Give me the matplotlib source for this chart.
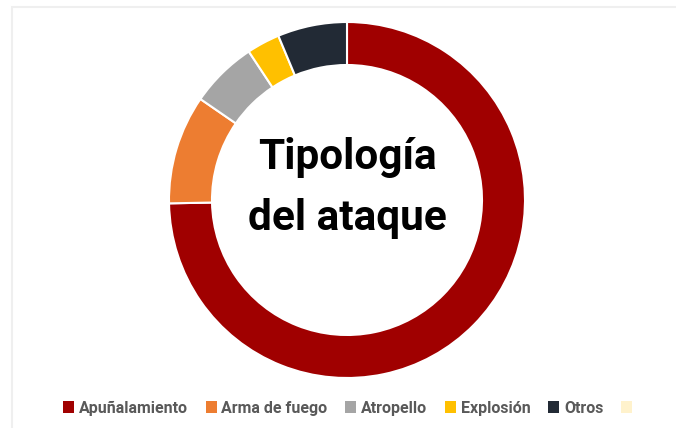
import matplotlib.pyplot as plt
from matplotlib.patches import Patch, Rectangle

categories = ["Apuñalamiento", "Arma de fuego", "Atropello", "Explosión", "Otros", ""]
values = [74.7, 9.9, 6.1, 3.0, 6.3, 0]
colors = ["#A00000", "#ED7D31", "#A5A5A5", "#FFC000", "#222A35", "#FFF2CC"]
title_lines = ["Tipología", "del ataque"]

W, H = 676, 428
fig = plt.figure(figsize=(W / 100, H / 100), dpi=100)
ax = fig.add_axes([0, 0, 1, 1])

# frame of the original screenshot
fig.patches.append(Rectangle((12 / W, -0.05), 1.1, (H - 7) / H + 0.05,
                             transform=fig.transFigure, fill=False,
                             edgecolor="#efefef", linewidth=1.5))

cx, cy, R = 347, H - 200, 178
drawn = [(v, c) for v, c in zip(values, colors) if v > 0]
ax.pie([v for v, c in drawn], colors=[c for v, c in drawn], startangle=90,
       counterclock=False, center=(cx, cy), radius=R,
       wedgeprops=dict(width=43, edgecolor="white", linewidth=1.5))
ax.set_xlim(0, W)
ax.set_ylim(0, H)
ax.set_aspect("auto")
ax.axis("off")

ax.text(cx, cy + 31, title_lines[0], ha="center", va="baseline",
        fontsize=30.5, fontweight="bold", family="Roboto", color="black")
ax.text(cx, cy - 30, title_lines[1], ha="center", va="baseline",
        fontsize=30.5, fontweight="bold", family="Roboto", color="black")

handles = [Patch(facecolor=c, edgecolor="none") for c in colors]
leg = fig.legend(handles, categories, loc="center", ncol=6,
                 bbox_to_anchor=(350 / W, (H - 408) / H), frameon=False,
                 handlelength=0.7, handleheight=0.7, handletextpad=0.3,
                 columnspacing=1.1,
                 prop=dict(family="Roboto", weight="bold", size=11.5))
for t in leg.get_texts():
    t.set_color("#595959")

fig.savefig("out.png", dpi=100, facecolor="white")
